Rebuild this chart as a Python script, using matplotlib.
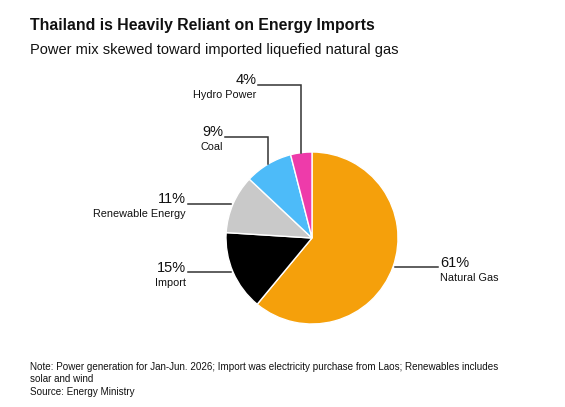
import numpy as np
import matplotlib.pyplot as plt

plt.rcParams['font.family'] = ['Liberation Sans', 'DejaVu Sans']

sources = ["Natural Gas", "Import", "Renewable Energy", "Coal", "Hydro Power"]
shares = [61, 15, 11, 9, 4]
colors = ["#F5A00B", "#000000", "#C9C9C9", "#4DBBF9", "#EE3BAA"]

title = "Thailand is Heavily Reliant on Energy Imports"
subtitle = "Power mix skewed toward imported liquefied natural gas"
note = ("Note: Power generation for Jan-Jun. 2026; Import was electricity purchase from Laos; "
        "Renewables includes\nsolar and wind")
source = "Source: Energy Ministry"

W, H = 565, 407
fig = plt.figure(figsize=(W / 100, H / 100), dpi=100)

# pie placed in pixel space: centre and radius
cx, cy, r = 312, 238, 86
ax = fig.add_axes([(cx - r) / W, (H - cy - r) / H, 2 * r / W, 2 * r / H])
wedges, _ = ax.pie(shares, colors=colors, startangle=90, counterclock=False,
                   radius=1, wedgeprops=dict(edgecolor='white', linewidth=1))
ax.set_xlim(-1, 1)
ax.set_ylim(-1, 1)
ax.axis('off')

px = 1 / r  # one pixel in data units
elbow = {"Coal": 101 * px, "Hydro Power": 153 * px}  # height of the elbow above centre
arm = 43 * px

for w, name, pct in zip(wedges, sources, shares):
    t = np.deg2rad((w.theta1 + w.theta2) / 2)
    x0, y0 = np.cos(t), np.sin(t)
    if name in elbow:
        ye = elbow[name]
        xe = x0 - arm
        ax.plot([x0, x0, xe], [y0, ye, ye], color='#333333', lw=1.1, clip_on=False,
                solid_joinstyle='miter')
        side = -1
    else:
        side = 1 if x0 > 0 else -1
        ye = y0
        x0 = x0 + side * 2 * px
        xe = x0 + side * arm
        ax.plot([x0, xe], [ye, ye], color='#333333', lw=1.1, clip_on=False)
    ha = 'left' if side > 0 else 'right'
    xt = xe + side * 2 * px
    ax.text(xt, ye + 0.5 * px, f"{pct}%", ha=ha, va='baseline', fontsize=10.5,
            color='#111111')
    ax.text(xt, ye - 13.5 * px, name, ha=ha, va='baseline', fontsize=7.8,
            color='#111111')

fig.text(30 / W, 1 - 30 / H, title, fontsize=11.4, fontweight='bold', ha='left',
         va='baseline', color='#111111')
fig.text(30 / W, 1 - 54 / H, subtitle, fontsize=10.5, ha='left', va='baseline',
         color='#111111')
# multi-line text: baseline anchor is the last line
fig.text(30 / W, 1 - 382.5 / H, note, fontsize=7.15, ha='left', va='baseline',
         linespacing=1.35, color='#111111')
fig.text(30 / W, 1 - 395 / H, source, fontsize=7.15, ha='left', va='baseline',
         color='#111111')

fig.savefig("out.png", dpi=100)
